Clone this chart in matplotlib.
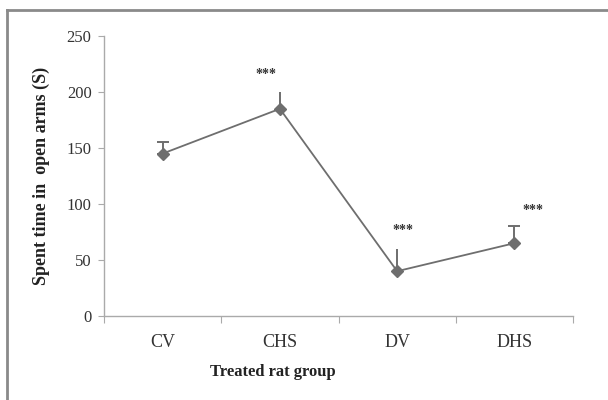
import matplotlib
matplotlib.use("Agg")
import matplotlib.pyplot as plt
from matplotlib.lines import Line2D

groups = ["CV", "CHS", "DV", "DHS"]
means = [145, 185, 40, 65]
errors = [10, 15, 20, 15]
caps = [True, False, False, True]
sig_labels = ["", "***", "***", "***"]
sig_y = [0, 216, 76, 94]
sig_dx = [0, -0.12, 0.05, 0.16]

plt.rcParams['font.family'] = ['Liberation Serif', 'DejaVu Serif']

W, H = 608, 400
fig = plt.figure(figsize=(W/100, H/100), dpi=100)
ax = fig.add_axes([104/W, 1-316/H, (573-104)/W, (316-36)/H])

x = [i + 0.5 for i in range(len(groups))]
col = '#6e6e6e'
for xi, m, e, c in zip(x, means, errors, caps):
    ax.errorbar([xi], [m], yerr=[[0], [e]], fmt='none', ecolor=col,
                elinewidth=1.4, capsize=4 if c else 0, capthick=1.4, zorder=2)
ax.plot(x, means, color=col, lw=1.3, marker='D', markersize=6,
        markerfacecolor=col, markeredgecolor=col, zorder=3)

for xi, lab, sy, dx in zip(x, sig_labels, sig_y, sig_dx):
    if lab:
        ax.text(xi + dx, sy, lab, ha='center', va='center', fontsize=10,
                color='#333333', fontweight='bold')

ax.set_xlim(0, 4)
ax.set_ylim(0, 250)
ax.set_yticks([0, 50, 100, 150, 200, 250])
ax.set_xticks([0, 1, 2, 3, 4])
ax.set_xticklabels([])
ax.set_xticks(x, minor=True)
ax.set_xticklabels(groups, minor=True, fontsize=13, color='#333333')
ax.tick_params(axis='x', which='minor', length=0, pad=13)
ax.tick_params(axis='x', which='major', length=5, color='#aaaaaa', direction='out')
ax.tick_params(axis='y', length=4, color='#aaaaaa', labelsize=12,
               labelcolor='#333333', pad=5)
for s in ['top', 'right']:
    ax.spines[s].set_visible(False)
for s in ['left', 'bottom']:
    ax.spines[s].set_color('#aaaaaa')
    ax.spines[s].set_linewidth(1.0)

ax.set_ylabel("Spent time in  open arms (S)", fontsize=13, fontweight='bold',
              color='#222222')
ax.yaxis.set_label_coords(-(104-50)/(573-104), 0.5)
fig.text(273/W, 1-372/H, "Treated rat group", ha='center', va='center',
         fontsize=12, fontweight='bold', color='#222222')

fig.lines.append(Line2D([7/W, 7/W], [0, 1-10/H], transform=fig.transFigure,
                        color='#8a8a8a', lw=2))
fig.lines.append(Line2D([7/W, 1], [1-10/H, 1-10/H], transform=fig.transFigure,
                        color='#8a8a8a', lw=2))

fig.savefig("out.png", dpi=100)
